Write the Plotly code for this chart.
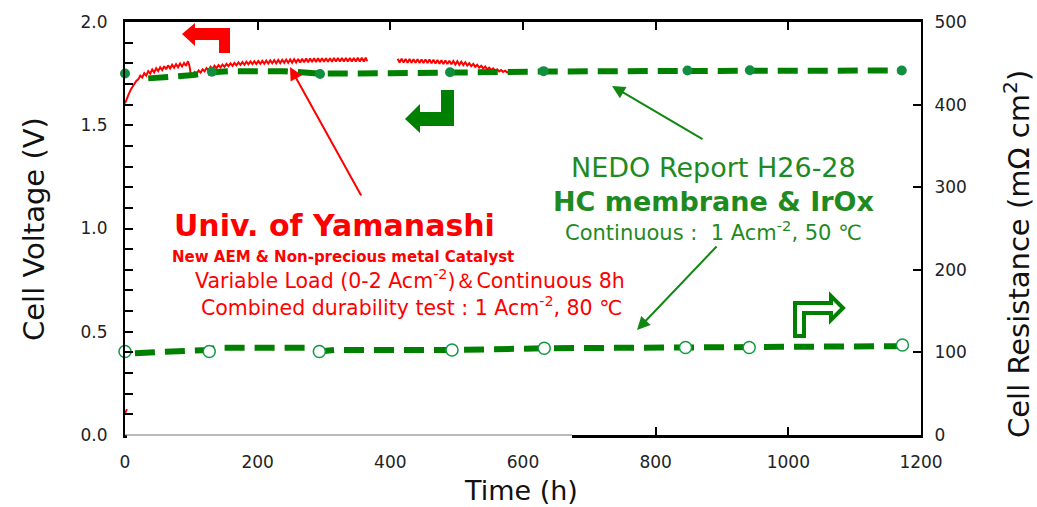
import plotly.graph_objects as go

# ---------------- data ----------------
# Univ. of Yamanashi: cell voltage (V) vs time (h) -- sawtooth trace, gap 365-411 h
red_time = [0, 2, 5, 9, 13, 17, 20, 23, 26, 29, 32, 35, 38, 41, 44, 47, 50, 53, 56, 59,
            62, 65, 68, 71, 74, 77, 80, 83, 86, 89, 92, 95, 97, 99, 102,
            105, 108, 111, 114, 117, 120, 123, 126, 129, 132, 135, 138, 141, 144, 147,
            150, 153, 156, 159, 162, 165, 168, 171, 174, 177, 180, 183, 186, 189, 192,
            195, 198, 201, 204, 207, 210, 213, 216, 219, 222, 225, 228, 231, 234, 237,
            240, 243, 246, 249, 252, 255, 258, 261, 264, 267, 270, 273, 276, 279, 282,
            285, 288, 291, 294, 297, 300, 303, 306, 309, 312, 315, 318, 321, 324, 327,
            330, 333, 336, 339, 342, 345, 348, 351, 354, 357, 360, 363, 365,
            388,
            411, 414, 417, 420, 423, 426, 429, 432, 435, 438, 441, 444, 447, 450, 453,
            456, 459, 462, 465, 468, 471, 474, 477, 480, 483, 486, 489, 492, 495, 498,
            501, 504, 507, 510, 513, 516, 519, 522, 525, 528, 531, 534, 537, 540, 543,
            546, 549, 552, 555, 558, 561, 564, 567, 570, 573, 576, 580]
red_voltage = [1.606, 1.625, 1.646, 1.675, 1.697, 1.715, 1.722, 1.740, 1.731, 1.752, 1.740, 1.762,
               1.750, 1.770, 1.756, 1.776, 1.762, 1.781, 1.767, 1.786, 1.771, 1.790, 1.775, 1.793,
               1.778, 1.796, 1.781, 1.799, 1.784, 1.802, 1.787, 1.810, 1.790, 1.752, 1.745,
               1.758, 1.748, 1.765, 1.755, 1.771, 1.761, 1.777, 1.767, 1.783, 1.772, 1.788, 1.777,
               1.791, 1.780, 1.794, 1.783, 1.797, 1.786, 1.800, 1.788, 1.802, 1.790, 1.804, 1.792,
               1.806, 1.793, 1.808, 1.795, 1.809, 1.796, 1.810, 1.797, 1.811, 1.798, 1.812, 1.798,
               1.813, 1.799, 1.814, 1.800, 1.815, 1.800, 1.816, 1.801, 1.817, 1.802, 1.818, 1.802,
               1.819, 1.803, 1.820, 1.804, 1.821, 1.804, 1.822, 1.805, 1.823, 1.805, 1.823, 1.806,
               1.824, 1.806, 1.824, 1.806, 1.825, 1.807, 1.825, 1.807, 1.825, 1.807, 1.826, 1.808,
               1.826, 1.808, 1.826, 1.808, 1.826, 1.808, 1.826, 1.808, 1.826, 1.808, 1.827, 1.808,
               1.827, 1.809, 1.827, 1.810,
               None,
               1.822, 1.804, 1.822, 1.804, 1.821, 1.803, 1.821, 1.803, 1.820, 1.802, 1.820, 1.802,
               1.819, 1.801, 1.819, 1.801, 1.818, 1.800, 1.817, 1.799, 1.816, 1.798, 1.815, 1.797,
               1.814, 1.796, 1.813, 1.795, 1.811, 1.794, 1.810, 1.793, 1.808, 1.791, 1.805, 1.789,
               1.801, 1.786, 1.797, 1.783, 1.793, 1.779, 1.788, 1.775, 1.784, 1.771, 1.779, 1.767,
               1.775, 1.764, 1.771, 1.761, 1.767, 1.758, 1.764, 1.756, 1.758]
red_start_time = [0, 3]
red_start_voltage = [0.105, 0.125]

# NEDO Report H26-28: cell voltage (V)
nedo_v_line_time = [35, 103, 131, 160, 240, 294, 400, 490, 631, 848, 942, 1171]
nedo_v_line_voltage = [1.727, 1.743, 1.757, 1.762, 1.762, 1.750, 1.752, 1.756, 1.760, 1.763, 1.764, 1.765]
nedo_v_point_time = [0, 131, 294, 490, 631, 848, 942, 1171]
nedo_v_point_voltage = [1.751, 1.759, 1.748, 1.757, 1.762, 1.765, 1.766, 1.765]

# NEDO Report H26-28: cell resistance (mOhm cm2)
nedo_r_line_time = [15, 125, 137, 273, 293, 318, 497, 632, 845, 941, 1160, 1172]
nedo_r_line_res = [99, 103, 105.5, 105.5, 101, 103, 103, 105, 106, 106, 107.5, 108]
nedo_r_point_time = [0, 127, 293, 493, 632, 845, 941, 1172]
nedo_r_point_res = [101, 101, 101, 103, 105, 106, 106, 109]

x_ticks = [0, 200, 400, 600, 800, 1000, 1200]
y_ticks = [0.0, 0.5, 1.0, 1.5, 2.0]
y2_ticks = [0, 100, 200, 300, 400, 500]

# ---------------- figure ----------------
W, H = 1037, 507
PL, PR, PT, PB = 125, 921, 22, 435
RED = '#ff0000'
GREEN = '#008000'
GTEXT = '#1f8a1f'


def px(x):
    return (x - PL) / (PR - PL)


def py(y):
    return (PB - y) / (PB - PT)


def path(points):
    return 'M ' + ' L '.join(f'{px(a):.5f},{py(b):.5f}' for a, b in points) + ' Z'


fig = go.Figure()
fig.add_trace(go.Scatter(x=red_time, y=red_voltage, mode='lines',
                         line=dict(color=RED, width=2), connectgaps=False, cliponaxis=False))
fig.add_trace(go.Scatter(x=red_start_time, y=red_start_voltage, mode='lines',
                         line=dict(color=RED, width=2), cliponaxis=False))
fig.add_trace(go.Scatter(x=nedo_v_line_time, y=nedo_v_line_voltage, mode='lines',
                         line=dict(color=GREEN, width=6, dash='20px,10px')))
fig.add_trace(go.Scatter(x=nedo_v_point_time, y=nedo_v_point_voltage, mode='markers',
                         marker=dict(color='#0f8f3f', size=10), cliponaxis=False))
fig.add_trace(go.Scatter(x=nedo_r_line_time, y=nedo_r_line_res, mode='lines', yaxis='y2',
                         line=dict(color=GREEN, width=6, dash='20px,10px')))
fig.add_trace(go.Scatter(x=nedo_r_point_time, y=nedo_r_point_res, mode='markers', yaxis='y2',
                         marker=dict(color='white', size=12, line=dict(color='#119944', width=1.5)),
                         cliponaxis=False))

tickfont = dict(family='DejaVu Sans', size=17, color='#222')
fig.update_layout(
    width=W, height=H,
    margin=dict(l=PL, r=W - PR, t=PT, b=H - PB),
    paper_bgcolor='white', plot_bgcolor='white', showlegend=False,
    xaxis=dict(range=[0, 1200], tickvals=x_ticks, ticks='inside', ticklen=8, tickwidth=2,
               tickcolor='black', showline=True, linecolor='black', linewidth=2.5,
               mirror='ticks', showgrid=False, zeroline=False, tickfont=tickfont,
               ticklabelstandoff=10),
    yaxis=dict(range=[0, 2], tickvals=y_ticks, tickformat='.1f', ticks='inside', ticklen=8,
               tickwidth=2, tickcolor='black', showline=True, linecolor='black', linewidth=2,
               showgrid=False, zeroline=False, tickfont=tickfont, ticklabelstandoff=12,
               minor=dict(dtick=0.1, ticks='inside', ticklen=8, tickwidth=2, tickcolor='black')),
    yaxis2=dict(range=[0, 500], tickvals=y2_ticks, overlaying='y', side='right', ticks='inside',
                ticklen=8, tickwidth=2, tickcolor='black', showline=True, linecolor='black',
                linewidth=2, showgrid=False, zeroline=False, tickfont=tickfont,
                ticklabelstandoff=8),
)

shapes = [
    # partially erased bottom axis on the left
    dict(type='rect', xref='paper', yref='paper', x0=px(127), x1=px(572), y0=py(439), y1=py(425),
         fillcolor='white', line=dict(width=0), layer='above'),
    dict(type='line', xref='paper', yref='paper', x0=px(125), x1=px(572), y0=py(435), y1=py(435),
         line=dict(color='#777', width=1), layer='above'),
    # red bent arrow (points to left axis)
    dict(type='path', xref='paper', yref='paper', fillcolor=RED, line=dict(width=0),
         path=path([(182, 34), (195, 23), (195, 28), (230, 28), (230, 53), (219, 53),
                    (219, 40), (195, 40), (195, 46)])),
    # green bent arrow (points to left axis)
    dict(type='path', xref='paper', yref='paper', fillcolor=GREEN, line=dict(width=0),
         path=path([(405, 119), (420, 104), (420, 112), (441, 112), (441, 90), (454, 90),
                    (454, 126), (420, 126), (420, 133)])),
    # hollow green arrow (points to right axis)
    dict(type='path', xref='paper', yref='paper', fillcolor='white', line=dict(color=GREEN, width=4),
         path=path([(795, 336), (795, 303), (831, 303), (831, 296), (843, 308), (831, 320),
                    (831, 313), (804, 313), (804, 336)])),
]
fig.update_layout(shapes=shapes)

ann = []


def text(x, y, s, size, color, bold=False, family='DejaVu Sans', angle=0):
    ann.append(dict(xref='paper', yref='paper', x=px(x), y=py(y), text=f'<b>{s}</b>' if bold else s,
                    showarrow=False, xanchor='center', yanchor='middle', textangle=angle,
                    font=dict(family=family, size=size, color=color)))


def arrow(hx, hy, tx, ty, color):
    ann.append(dict(xref='paper', yref='paper', x=px(hx), y=py(hy), ax=tx - hx, ay=ty - hy,
                    axref='pixel', ayref='pixel', text='', showarrow=True, arrowhead=2,
                    arrowsize=1.3, arrowwidth=2, arrowcolor=color, standoff=0))


# axis titles
text(34, 229, 'Cell Voltage (V)', 29, '#111', angle=-90)
text(1017, 254, 'Cell Resistance (mΩ cm<sup>2</sup>)', 29, '#111', angle=-90)
text(521, 490, 'Time (h)', 27, '#111')

# Yamanashi texts
text(334, 225, 'Univ. of Yamanashi', 30, RED, bold=True)
text(343, 257, 'New AEM &amp; Non-precious metal Catalyst', 15, RED, bold=True)
text(410, 279, 'Variable Load (0-2 Acm<sup>-2</sup>)＆Continuous 8h', 20.5, RED)
text(411, 306, 'Combined durability test : 1 Acm<sup>-2</sup>, 80 ℃', 20.5, RED)

# NEDO texts
text(713, 167, 'NEDO Report H26-28', 27, GTEXT)
text(713, 201, 'HC membrane &amp; IrOx', 27, GTEXT, bold=True)
text(713, 231, 'Continuous :\u00a0 1 Acm<sup>-2</sup>, 50 ℃', 21, GTEXT)

# pointer arrows
arrow(290, 67, 362, 197, RED)
arrow(612, 86, 704, 140, '#118811')
arrow(637, 330, 718, 245, '#118811')

fig.update_layout(annotations=ann)
fig.write_html('out.html')
